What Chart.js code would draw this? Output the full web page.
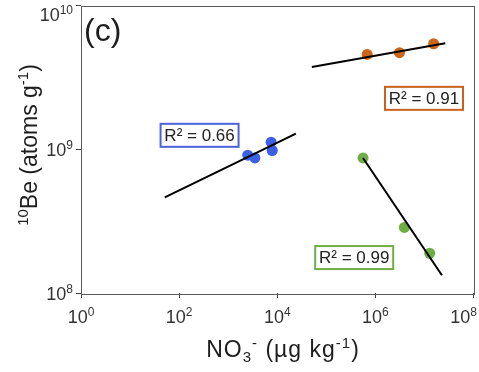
<!DOCTYPE html>
<html><head><meta charset="utf-8">
<script src="https://cdn.jsdelivr.net/npm/chart.js@4"></script>
<style>html,body{margin:0;padding:0;background:#fff}#wrap{width:479px;height:372px}</style>
</head><body><div id="wrap"><canvas id="c"></canvas></div>
<script>
// Tick values
const xTicks = [1e0, 1e2, 1e4, 1e6, 1e8];
const yTicks = [1e8, 1e9, 1e10];
const xTickExp = ['0', '2', '4', '6', '8'];
const yTickExp = ['8', '9', '10'];

// Series data (NO3- µg/kg, 10Be atoms/g)
const blueX = [2500, 3500, 7500, 7900];
const blueY = [9.1e8, 8.7e8, 1.12e9, 9.8e8];
const orangeX = [6.8e5, 3.1e6, 1.54e7];
const orangeY = [4.57e9, 4.7e9, 5.42e9];
const greenX = [5.6e5, 3.9e6, 1.28e7];
const greenY = [8.7e8, 2.86e8, 1.89e8];

// Regression line end points
const blueFitX = [51, 24000];
const blueFitY = [4.62e8, 1.285e9];
const orangeFitX = [5.07e4, 2.66e7];
const orangeFitY = [3.73e9, 5.47e9];
const greenFitX = [5.6e5, 2.27e7];
const greenFitY = [8.7e8, 1.33e8];

// R² labels
const r2Labels = ['R² = 0.66', 'R² = 0.91', 'R² = 0.99'];
const r2AnchorX = [261, 9.8e6, 3.7e5];
const r2AnchorY = [1.25e9, 2.26e9, 1.764e8];

const BLUE = '#3d5fe6', ORANGE = '#cc661c', GREEN = '#6fae45';
const r2Colors = ['#4a62dc', '#c8621e', '#6fae45'];
const FONT = '"Liberation Sans", Arial, Helvetica, sans-serif';

const pts = (xs, ys) => xs.map((x, i) => ({x, y: ys[i]}));

function measureRich(ctx, parts) {
  let w = 0;
  parts.forEach(p => { ctx.font = p.size + 'px ' + FONT; p.w = ctx.measureText(p.t).width; w += p.w; });
  return w;
}
function drawRich(ctx, parts, x, y, align) {
  const w = measureRich(ctx, parts);
  let cx = align === 'center' ? x - w / 2 : (align === 'right' ? x - w : x);
  parts.forEach(p => {
    ctx.font = p.size + 'px ' + FONT;
    ctx.textAlign = 'left';
    ctx.textBaseline = 'alphabetic';
    ctx.fillText(p.t, cx, y + (p.dy || 0));
    cx += p.w;
  });
  return w;
}

const decor = {
  id: 'decor',
  afterDraw(chart) {
    const ctx = chart.ctx, a = chart.chartArea;
    const xs = chart.scales.x, ys = chart.scales.y;
    ctx.save();
    // frame
    ctx.strokeStyle = '#5a5a5a';
    ctx.lineWidth = 1;
    ctx.strokeRect(Math.round(a.left) + 0.5, Math.round(a.top) + 0.5, Math.round(a.right - a.left), Math.round(a.bottom - a.top));
    // x tick labels
    ctx.fillStyle = '#333';
    xTicks.forEach((v, i) => {
      const parts = [{t: '10', size: 18}, {t: xTickExp[i], size: 12, dy: -7}];
      const w = measureRich(ctx, parts);
      let cx = xs.getPixelForValue(v);
      if (cx + w / 2 > 477) cx = 477 - w / 2;
      drawRich(ctx, parts, cx, 323, 'center');
    });
    // y tick labels
    yTicks.forEach((v, i) => {
      const parts = [{t: '10', size: 18}, {t: yTickExp[i], size: 12, dy: -7}];
      let by = ys.getPixelForValue(v) + 7;
      if (by < 21) by = 21;
      drawRich(ctx, parts, 73, by, 'right');
    });
    // axis titles
    ctx.fillStyle = '#1e1e1e';
    ctx.save();
    ctx.letterSpacing = '1px';
    drawRich(ctx, [
      {t: 'NO', size: 23}, {t: '3', size: 15, dy: 5}, {t: '-', size: 15, dy: -9},
      {t: ' (µg kg', size: 23}, {t: '-1', size: 15, dy: -9}, {t: ')', size: 23}
    ], 283, 357, 'center');
    ctx.restore();
    ctx.save();
    ctx.translate(37, 145);
    ctx.rotate(-Math.PI / 2);
    drawRich(ctx, [
      {t: '10', size: 15, dy: -9}, {t: 'Be (atoms g', size: 23},
      {t: '-1', size: 15, dy: -9}, {t: ')', size: 23}
    ], 0, 0, 'center');
    ctx.restore();
    // panel label
    ctx.font = '32px ' + FONT;
    ctx.textAlign = 'left';
    ctx.textBaseline = 'alphabetic';
    ctx.fillText('(c)', 84, 41);
    // R² boxes
    r2Labels.forEach((t, i) => {
      const cx = xs.getPixelForValue(r2AnchorX[i]);
      const cy = ys.getPixelForValue(r2AnchorY[i]);
      const bw = 78, bh = 23;
      ctx.fillStyle = '#fff';
      ctx.fillRect(cx - bw / 2, cy - bh / 2, bw, bh);
      ctx.strokeStyle = r2Colors[i];
      ctx.lineWidth = 2;
      ctx.strokeRect(cx - bw / 2, cy - bh / 2, bw, bh);
      ctx.fillStyle = '#222';
      ctx.font = '17px ' + FONT;
      ctx.textAlign = 'center';
      ctx.textBaseline = 'middle';
      ctx.fillText(t, cx, cy + 1);
    });
    ctx.restore();
  }
};

const fitStyle = {type: 'line', showLine: true, borderColor: '#000', borderWidth: 2, pointRadius: 0, fill: false};
const ptStyle = (c) => ({showLine: false, pointRadius: 5.5, pointHoverRadius: 5.5, backgroundColor: c, borderColor: c, borderWidth: 0});

new Chart(document.getElementById('c'), {
  type: 'scatter',
  data: {
    datasets: [
      Object.assign({data: pts(blueFitX, blueFitY)}, fitStyle),
      Object.assign({data: pts(orangeFitX, orangeFitY)}, fitStyle),
      Object.assign({data: pts(greenFitX, greenFitY)}, fitStyle),
      Object.assign({data: pts(blueX, blueY)}, ptStyle(BLUE)),
      Object.assign({data: pts(orangeX, orangeY)}, ptStyle(ORANGE)),
      Object.assign({data: pts(greenX, greenY)}, ptStyle(GREEN))
    ]
  },
  options: {
    responsive: true,
    maintainAspectRatio: false,
    animation: false,
    events: [],
    layout: {padding: {top: 5, right: 4, left: 0, bottom: 0}},
    plugins: {legend: {display: false}, tooltip: {enabled: false}},
    scales: {
      x: {
        type: 'logarithmic', min: 1, max: 1e8,
        afterBuildTicks: s => { s.ticks = xTicks.map(v => ({value: v})); },
        afterFit: s => { s.height = 79; },
        ticks: {display: false},
        grid: {drawOnChartArea: false, drawTicks: true, tickLength: 5, color: '#444', lineWidth: 1},
        border: {display: false}
      },
      y: {
        type: 'logarithmic', min: 1e8, max: 1e10,
        afterBuildTicks: s => { s.ticks = yTicks.map(v => ({value: v})); },
        afterFit: s => { s.width = 81; },
        ticks: {display: false},
        grid: {drawOnChartArea: false, drawTicks: true, tickLength: 5, color: '#444', lineWidth: 1},
        border: {display: false}
      }
    }
  },
  plugins: [decor]
});
</script>
</body></html>
